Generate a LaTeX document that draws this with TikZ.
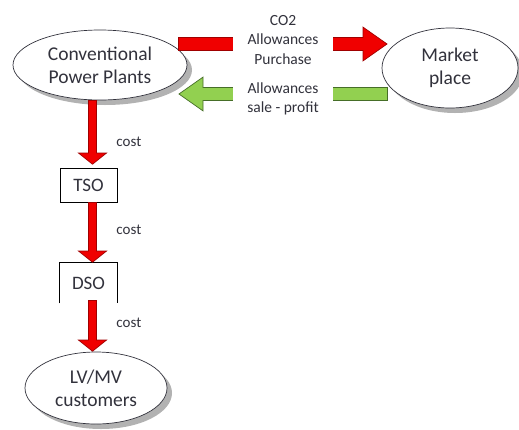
\documentclass[tikz,border=0pt]{standalone}
\usepackage{fontspec}
\setmainfont{Carlito}
\usetikzlibrary{arrows.meta}
\usetikzlibrary{shapes.geometric}
\usetikzlibrary{shadows}
\definecolor{inkgray}{RGB}{50,50,60}
\definecolor{buyred}{RGB}{240,0,0}
\definecolor{buyrim}{RGB}{160,0,0}
\definecolor{sellgreen}{RGB}{146,208,80}
\definecolor{sellrim}{RGB}{70,110,40}
\tikzset{
  party/.style={
    ellipse,
    draw=inkgray,
    fill=white,
    line width=0.7pt,
    align=center,
    text=inkgray,
    font=\fontsize{19.5}{23}\selectfont,
    drop shadow={shadow xshift=5pt, shadow yshift=-5pt, fill=black!30, opacity=1}
  },
  % grid operator box
  operator/.style={
    rectangle,
    draw=black,
    line width=0.7pt,
    minimum width=57pt,
    minimum height=34pt,
    text=inkgray,
    font=\fontsize{19}{23}\selectfont
  },
  % wide block arrow, the rim is the draw colour, the body is #1
  big arrow/.style={
    line width=13.4pt,
    -{Triangle[length=25pt,width=35pt,fill=#1,line width=0.7pt]},
    postaction={draw=#1, line width=12pt, -, shorten >=24pt, shorten <=0.7pt}
  },
  small arrow/.style={
    line width=9.2pt,
    -{Triangle[length=12pt,width=30pt,fill=#1,line width=0.7pt]},
    postaction={draw=#1, line width=7.8pt, -, shorten >=11pt, shorten <=0.7pt}
  },
  deal/.style={
    fill=white,
    inner sep=1pt,
    minimum width=100pt,
    align=center,
    text=inkgray,
    font=\fontsize{15.5}{19.5}\selectfont
  },
  cost/.style={
    right,
    xshift=16pt,
    text=inkgray,
    font=\fontsize{15}{17}\selectfont
  }
}

\begin{document}
\begin{tikzpicture}[x=1pt, y=-1pt]
  \useasboundingbox (0,0) rectangle (519,429);

  \node[party, minimum width=174pt, minimum height=70pt] (plants) at (100,65) {Conventional\\Power Plants};
  \node[party, minimum width=136pt, minimum height=80pt] (market) at (450,68) {Market\\place};
  \node[operator] (tso) at (88.5,185) {TSO};
  \node[operator, draw=none, minimum height=40pt] (dso) at (88.5,283) {DSO};
  \draw[line width=0.7pt] (dso.south west) |- (dso.north east) -- (dso.south east);
  \node[party, minimum width=142pt, minimum height=72pt] (users) at (96,388) {LV/MV\\customers};

  \draw[big arrow=buyred, draw=buyrim] ([shift={(-9pt,21pt)}]plants.east)
    -- node[deal, yshift=4pt] {CO2\\Allowances\\Purchase}
    ([shift={(6pt,24pt)}]market.west);

  \draw[big arrow=sellgreen, draw=sellrim] ([shift={(6pt,-26pt)}]market.west)
    -- node[deal, yshift=-5pt] {Allowances\\sale - profit}
    ([shift={(-9pt,-29pt)}]plants.east);

  \draw[small arrow=buyred, draw=buyrim] ([xshift=-7.5pt]plants.south)
    -- node[cost, pos=0.65] {cost} ([shift={(4pt,3pt)}]tso.north);

  \draw[small arrow=buyred, draw=buyrim] ([xshift=4pt]tso.south)
    -- node[cost, pos=0.46] {cost} ([xshift=4pt]dso.north);

  \draw[small arrow=buyred, draw=buyrim] ([shift={(4pt,3pt)}]dso.south)
    -- node[cost, pos=0.44] {cost} ([xshift=-3.5pt]users.north);
\end{tikzpicture}
\end{document}
